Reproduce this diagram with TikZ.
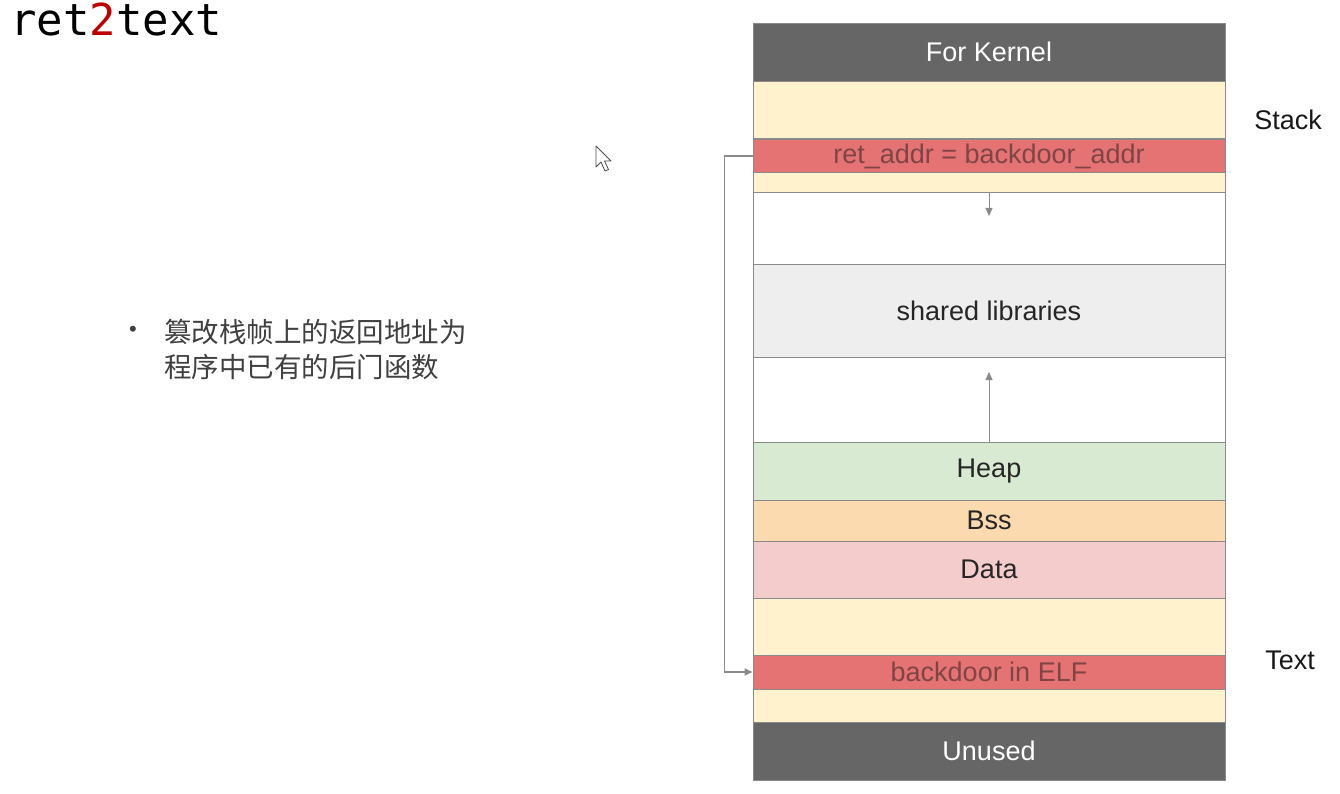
\documentclass[tikz,border=0pt]{standalone}
\usepackage{fontspec}
\setmainfont{Liberation Sans}
\newfontfamily\cjk{Noto Sans CJK SC}
\newfontfamily\monof{DejaVu Sans Mono}
\usetikzlibrary{arrows.meta}
\definecolor{kern}{HTML}{666666}
\definecolor{cream}{HTML}{FFF2CC}
\definecolor{redbar}{HTML}{E57373}
\definecolor{redtxt}{HTML}{7F4545}
\definecolor{shlib}{HTML}{EEEEEE}
\definecolor{heapc}{HTML}{D9EAD3}
\definecolor{bssc}{HTML}{FBDAB0}
\definecolor{datac}{HTML}{F4CCCC}
\definecolor{edge}{HTML}{8A8A8A}
\definecolor{bodytxt}{HTML}{404040}
\definecolor{titlered}{HTML}{C00000}
\begin{document}
\begin{tikzpicture}[x=1pt,y=-1pt,
  seg/.style={draw=edge, line width=0.9pt, inner sep=0pt, minimum width=472pt, text=black!85,
    font=\fontsize{27}{32}\selectfont},
  lbl/.style={inner sep=0pt, font=\fontsize{27}{32}\selectfont, text=black!90},
  conn/.style={draw=edge, line width=1.1pt, -{Triangle[length=8pt,width=7pt]}}
]
\useasboundingbox[fill=white] (0,0) rectangle (1340,794);

% title
\node[anchor=base west, inner sep=0pt, font=\monof\fontsize{44}{50}\selectfont] (title) at (10,36)
  {ret\textcolor{titlered}{2}text};

% bullet text
\node[inner sep=0pt, text=bodytxt, font=\fontsize{22}{26}\selectfont] (bullet) at (133,331) {•};
\node[anchor=west, align=left, inner sep=0pt, text=bodytxt, font=\cjk\fontsize{27.5}{35}\selectfont] (btext) at (164,349)
  {篡改栈帧上的返回地址为\\程序中已有的后门函数};

% memory column
\node[seg, fill=kern, text=white, minimum height=58pt] (kernel) at (989,52) {For Kernel};
\node[seg, fill=cream, minimum height=57pt] (stk) at (989,109.5) {};
\node[seg, fill=redbar, text=redtxt, minimum height=34pt] (ret) at (989,156) {ret\_addr = backdoor\_addr};
\node[seg, fill=cream, minimum height=20pt] (stk2) at (989,182) {};
\node[seg, fill=white, minimum height=72pt] (gap1) at (989,228) {};
\node[seg, fill=shlib, minimum height=93pt] (shlib) at (989,310.5) {shared libraries};
\node[seg, fill=white, minimum height=85pt] (gap2) at (989,399.5) {};
\node[seg, fill=heapc, minimum height=58pt] (heap) at (989,471) {Heap};
\node[seg, fill=bssc, minimum height=41pt] (bss) at (989,520.5) {Bss};
\node[seg, fill=datac, minimum height=57pt] (data) at (989,569.5) {Data};
\node[seg, fill=cream, minimum height=57pt] (txt1) at (989,626.5) {};
\node[seg, fill=redbar, text=redtxt, minimum height=34pt] (bd) at (989,672) {backdoor in ELF};
\node[seg, fill=cream, minimum height=33pt] (txt2) at (989,705.5) {};
\node[seg, fill=kern, text=white, minimum height=58pt] (unused) at (989,751) {Unused};

% side labels
\node[lbl] (stacklbl) at (1288,120) {Stack};
\node[lbl] (textlbl) at (1290,660) {Text};

% growth arrows
\coordinate (downtip) at (989,216);
\coordinate (uptip) at (989,372);
\draw[conn, line width=0.9pt] (stk2.south) -- (downtip);
\draw[conn, line width=0.9pt] (heap.north) -- (uptip);

% return redirect connector
\draw[conn] (ret.west) -- ++(-28,0) |- (bd.west);

% mouse cursor
\draw[draw=black!70, fill=white, line width=0.8pt, line join=round]
  (596,146) -- (596,167) -- (601,162) -- (605,171) -- (608.5,169.5) -- (604.5,161) -- (611,161) -- cycle;
\end{tikzpicture}
\end{document}
